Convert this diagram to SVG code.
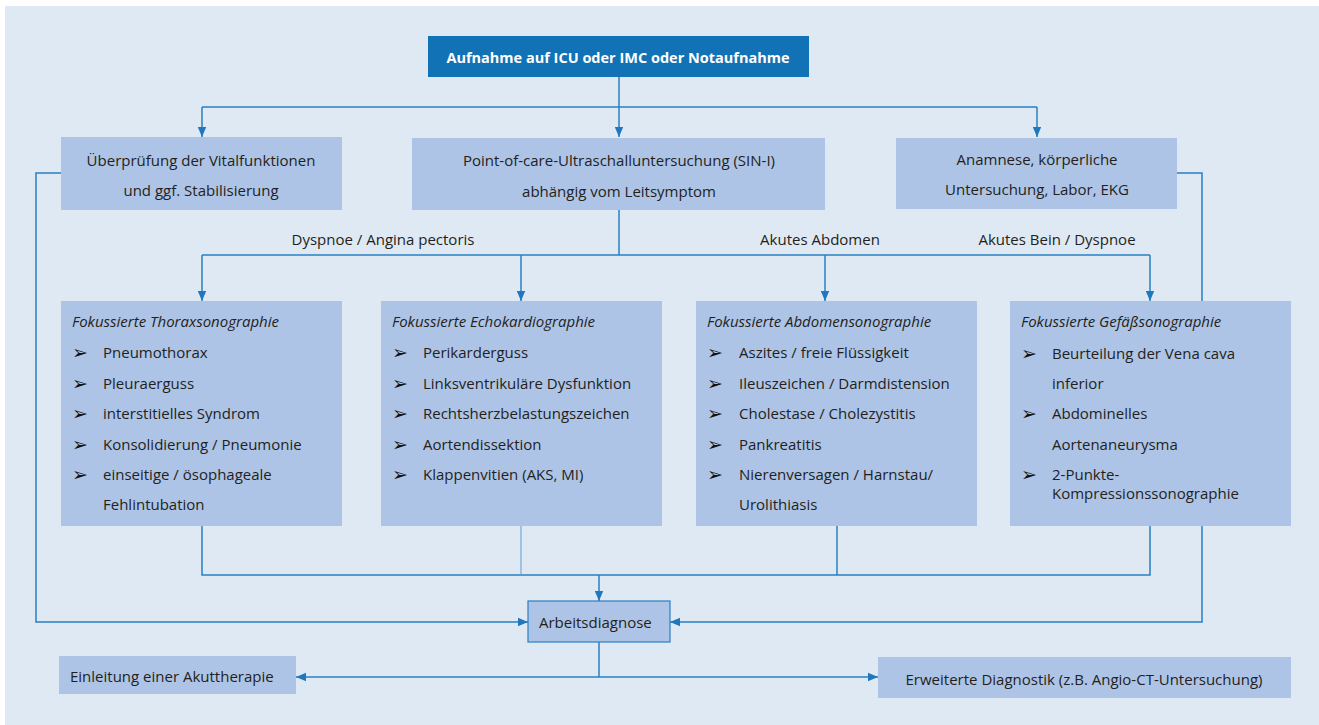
<svg xmlns="http://www.w3.org/2000/svg" width="1319" height="725" viewBox="0 0 1319 725">
<defs>
<marker id="ah" markerUnits="userSpaceOnUse" markerWidth="10" markerHeight="10" viewBox="0 0 10 10" refX="10" refY="5" orient="auto">
<path d="M0,0.8 L10,5 L0,9.2 z" fill="#1f78bd"/>
</marker>
<style>
.bg{fill:#dfe9f4}
.box{fill:#aec4e6}
.top{fill:#1272b6}
.c{fill:none;stroke:#2a7fc1;stroke-width:1.5}
.thin{fill:none;stroke:#5f9fd3;stroke-width:1}
.a{marker-end:url(#ah)}
text{font-family:"Open Sans","Liberation Sans",sans-serif;font-size:15px;fill:#231f20}
.mid{text-anchor:middle}
.b{font-weight:bold;fill:#ffffff;font-size:14.5px}
.it{font-style:italic}
text.bu{font-family:"DejaVu Sans",sans-serif;font-size:19px;fill:#111111}
</style>
</defs>
<rect class="bg" x="5" y="6" width="1314" height="719"/>
<g id="connectors">
<path class="c a" d="M619,77 V137"/>
<path class="c" d="M202,107 H1037"/>
<path class="c a" d="M202,107 V137"/>
<path class="c a" d="M1037,107 V137"/>
<path class="c" d="M619,210 V255"/>
<path class="c" d="M202,255 H1150"/>
<path class="c a" d="M202,255 V301"/>
<path class="c a" d="M521,255 V301"/>
<path class="c a" d="M825,255 V301"/>
<path class="c a" d="M1150,255 V301"/>
<path class="c a" d="M61,173 H36 V622 H528"/>
<path class="c a" d="M1177,173 H1202 V622 H670"/>
<path class="c" d="M202,526 V575 H1150 V526"/>
<path class="thin" d="M521,526 V575"/>
<path class="c" d="M837,526 V575"/>
<path class="c a" d="M599,575 V601"/>
<path class="c" d="M599,642 V677"/>
<path class="c a" d="M599,677 H296"/>
<path class="c a" d="M599,677 H878"/>
<text class="mid" x="383" y="245">Dyspnoe / Angina pectoris</text>
<text class="mid" x="820" y="245">Akutes Abdomen</text>
<text class="mid" x="1057" y="245">Akutes Bein / Dyspnoe</text>
</g>
<g id="n-aufnahme">
<rect class="top" x="428" y="36" width="381" height="41"/>
<text class="mid b" x="618" y="63">Aufnahme auf ICU oder IMC oder Notaufnahme</text>
</g>
<g id="n-vital">
<rect class="box" x="61" y="137" width="281" height="73"/>
<text class="mid" x="201" y="166">Überprüfung der Vitalfunktionen</text>
<text class="mid" x="201" y="196">und ggf. Stabilisierung</text>
</g>
<g id="n-pocus">
<rect class="box" x="412" y="138" width="413" height="72"/>
<text class="mid" x="619" y="166">Point-of-care-Ultraschalluntersuchung (SIN-I)</text>
<text class="mid" x="619" y="197">abhängig vom Leitsymptom</text>
</g>
<g id="n-anamnese">
<rect class="box" x="896" y="138" width="281" height="71"/>
<text class="mid" x="1037" y="165">Anamnese, körperliche</text>
<text class="mid" x="1037" y="195">Untersuchung, Labor, EKG</text>
</g>
<g id="n-thorax">
<rect class="box" x="61" y="301" width="281" height="225"/>
<text class="it" x="72" y="327">Fokussierte Thoraxsonographie</text>
<text class="bu" x="72" y="359">➢</text><text x="103" y="358">Pneumothorax</text>
<text class="bu" x="72" y="390">➢</text><text x="103" y="389">Pleuraerguss</text>
<text class="bu" x="72" y="420">➢</text><text x="103" y="419">interstitielles Syndrom</text>
<text class="bu" x="72" y="451">➢</text><text x="103" y="450">Konsolidierung / Pneumonie</text>
<text class="bu" x="72" y="481">➢</text><text x="103" y="480">einseitige / ösophageale</text>
<text x="103" y="510">Fehlintubation</text>
</g>
<g id="n-echo">
<rect class="box" x="381" y="301" width="281" height="225"/>
<text class="it" x="392" y="327">Fokussierte Echokardiographie</text>
<text class="bu" x="392" y="359">➢</text><text x="423" y="358">Perikarderguss</text>
<text class="bu" x="392" y="390">➢</text><text x="423" y="389">Linksventrikuläre Dysfunktion</text>
<text class="bu" x="392" y="420">➢</text><text x="423" y="419">Rechtsherzbelastungszeichen</text>
<text class="bu" x="392" y="451">➢</text><text x="423" y="450">Aortendissektion</text>
<text class="bu" x="392" y="481">➢</text><text x="423" y="480">Klappenvitien (AKS, MI)</text>
</g>
<g id="n-abdomen">
<rect class="box" x="696" y="301" width="281" height="225"/>
<text class="it" x="707" y="327">Fokussierte Abdomensonographie</text>
<text class="bu" x="707" y="359">➢</text><text x="739" y="358">Aszites / freie Flüssigkeit</text>
<text class="bu" x="707" y="390">➢</text><text x="739" y="389">Ileuszeichen / Darmdistension</text>
<text class="bu" x="707" y="420">➢</text><text x="739" y="419">Cholestase / Cholezystitis</text>
<text class="bu" x="707" y="451">➢</text><text x="739" y="450">Pankreatitis</text>
<text class="bu" x="707" y="481">➢</text><text x="739" y="480">Nierenversagen / Harnstau/</text>
<text x="739" y="510">Urolithiasis</text>
</g>
<g id="n-gefaess">
<rect class="box" x="1010" y="301" width="281" height="225"/>
<text class="it" x="1021" y="327">Fokussierte Gefäßsonographie</text>
<text class="bu" x="1021" y="360">➢</text><text x="1052" y="359">Beurteilung der Vena cava</text>
<text x="1052" y="389">inferior</text>
<text class="bu" x="1021" y="420">➢</text><text x="1052" y="419">Abdominelles</text>
<text x="1052" y="450">Aortenaneurysma</text>
<text class="bu" x="1021" y="481">➢</text><text x="1052" y="480">2-Punkte-</text>
<text x="1052" y="499">Kompressionssonographie</text>
</g>
<g id="n-arbeitsdiagnose">
<rect class="box" x="528" y="601" width="142" height="41" stroke="#2a7fc1" stroke-width="1.2"/>
<text x="539" y="628">Arbeitsdiagnose</text>
</g>
<g id="n-akuttherapie">
<rect class="box" x="59" y="656" width="237" height="38"/>
<text x="70" y="682">Einleitung einer Akuttherapie</text>
</g>
<g id="n-erweitert">
<rect class="box" x="878" y="657" width="413" height="41"/>
<text class="mid" x="1084" y="685">Erweiterte Diagnostik (z.B. Angio-CT-Untersuchung)</text>
</g>
</svg>
